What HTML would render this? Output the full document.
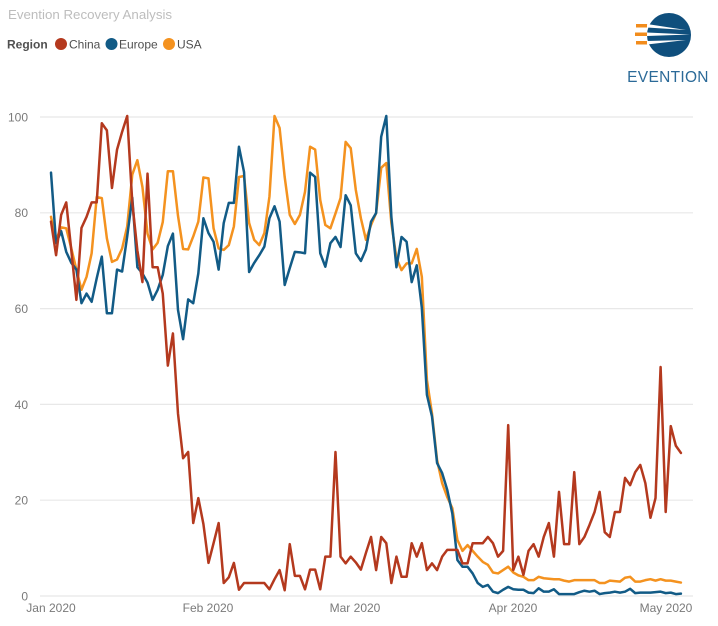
<!DOCTYPE html>
<html><head><meta charset="utf-8"><style>
html,body{margin:0;padding:0;background:#fff;}
svg{display:block;font-family:"Liberation Sans",sans-serif;}
</style></head><body>
<svg width="718" height="626" viewBox="0 0 718 626" xmlns="http://www.w3.org/2000/svg">
<rect width="718" height="626" fill="#fff"/>
<text x="8" y="19" font-size="13.3" fill="#bdbdbd">Evention Recovery Analysis</text>
<text x="7" y="48.5" font-size="12" font-weight="bold" fill="#505050">Region</text>
<circle cx="61" cy="44" r="6" fill="#b4391e"/>
<text x="69" y="48.5" font-size="12" fill="#505050">China</text>
<circle cx="111.5" cy="44" r="6" fill="#125b86"/>
<text x="119" y="48.5" font-size="12" fill="#505050">Europe</text>
<circle cx="169" cy="44" r="6" fill="#f4921f"/>
<text x="177" y="48.5" font-size="12" fill="#505050">USA</text>
<!-- logo -->
<circle cx="669" cy="35" r="22" fill="#0f4f7d"/>
<rect x="636" y="24" width="12" height="3.5" fill="#f28c1c"/>
<rect x="635" y="32.5" width="13" height="3.5" fill="#f28c1c"/>
<rect x="636" y="41" width="12" height="3.5" fill="#f28c1c"/>
<polygon points="647,24 647,27.5 686,30" fill="#fff"/>
<polygon points="647,32.5 647,36 690,34.5" fill="#fff"/>
<polygon points="647,41 647,44.5 686,40" fill="#fff"/>
<text x="668" y="82" font-size="15.5" fill="#2b6a98" text-anchor="middle" letter-spacing="0.3">EVENTION</text>
<!-- grid -->
<g stroke="#e8e8e8" stroke-width="1.2">
<line x1="40" y1="117" x2="693" y2="117"/>
<line x1="40" y1="212.8" x2="693" y2="212.8"/>
<line x1="40" y1="308.6" x2="693" y2="308.6"/>
<line x1="40" y1="404.4" x2="693" y2="404.4"/>
<line x1="40" y1="500.2" x2="693" y2="500.2"/>
<line x1="40" y1="596" x2="693" y2="596"/>
</g>
<g font-size="12" fill="#7a7a7a" text-anchor="end">
<text x="28" y="121.5">100</text>
<text x="28" y="217">80</text>
<text x="28" y="313">60</text>
<text x="28" y="409">40</text>
<text x="28" y="504.5">20</text>
<text x="28" y="600.5">0</text>
</g>
<g font-size="12" fill="#7a7a7a" text-anchor="middle">
<text x="51" y="612">Jan 2020</text>
<text x="208" y="612">Feb 2020</text>
<text x="355" y="612">Mar 2020</text>
<text x="513" y="612">Apr 2020</text>
<text x="666" y="612">May 2020</text>
</g>
<g transform="translate(51,596) scale(5.08,-4.8)" fill="none" stroke-linejoin="round" stroke-linecap="round">
<polyline vector-effect="non-scaling-stroke" stroke="#f4921f" stroke-width="2.5" points="0,79 1,74.2 2,76.8 3,76.6 4,72.4 5,68 6,63.8 7,66.5 8,71.4 9,83.1 10,82.9 11,74.5 12,69.6 13,70.1 14,72.4 15,77 16,87.8 17,90.8 18,85.2 19,75.5 20,72.2 21,73.6 22,77.9 23,88.5 24,88.5 25,79.2 26,72.3 27,72.2 28,74.9 29,78 30,87.2 31,87 32,76.6 33,72.4 34,72.1 35,73.1 36,77 37,87.3 38,87.5 39,77.7 40,74.2 41,73.1 42,75.6 43,83.2 44,100 45,97.5 46,87.3 47,79.4 48,77.5 49,79.4 50,84.2 51,93.6 52,93 53,82.5 54,77.3 55,76.6 56,79.7 57,82.9 58,94.6 59,93.3 60,84.6 61,78.7 62,74.2 63,77.3 64,79.8 65,89.2 66,90.2 67,77.7 68,70.4 69,67.9 70,69.3 71,69.3 72,72.3 73,66.5 74,45 75,38 76,28.3 77,23.5 78,20.6 79,18.3 80,11.7 81,9.4 82,10.6 83,9.4 84,8.2 85,7.1 86,6.5 87,4.9 88,4.7 89,5.4 90,6.1 91,4.9 92,4.3 93,4 94,3.3 95,3.3 96,4 97,3.7 98,3.6 99,3.5 100,3.5 101,3.2 102,3 103,3.3 104,3.3 105,3.3 106,3.3 107,3.3 108,2.7 109,2.7 110,3.2 111,3.1 112,3 113,3.8 114,4 115,3 116,3 117,3.3 118,3.5 119,3.2 120,3.5 121,3.2 122,3.2 123,3 124,2.8"/>
<polyline vector-effect="non-scaling-stroke" stroke="#125b86" stroke-width="2.5" points="0,88.2 1,73.5 2,76 3,71.7 4,69.4 5,68 6,61 7,63 8,61.3 9,66.2 10,70.7 11,58.9 12,58.9 13,68 14,67.6 15,74.9 16,83 17,68.5 18,67.2 19,65.3 20,61.7 21,63.8 22,66.9 23,72.9 24,75.5 25,59.6 26,53.5 27,61.8 28,61 29,67.2 30,78.7 31,75.6 32,73.8 33,68 34,77.7 35,81.9 36,81.9 37,93.6 38,88.3 39,67.5 40,69.4 41,71 42,72.8 43,78.7 44,81.2 45,78 46,64.8 47,68.3 48,71.7 49,71.6 50,71.4 51,88.2 52,87.3 53,71.4 54,68.6 55,73.5 56,74.8 57,72.7 58,83.5 59,81.4 60,71.4 61,69.8 62,72.2 63,78 64,79.8 65,95.7 66,100 67,79 68,68.5 69,74.8 70,73.8 71,65.4 72,68.9 73,60 74,41.9 75,37.4 76,27.7 77,25.6 78,22.1 79,17.2 80,7.5 81,6.1 82,6.1 83,4.7 84,2.7 85,1.9 86,2.3 87,0.9 88,0.6 89,1.3 90,1.9 91,1.4 92,1.3 93,1.3 94,0.7 95,0.6 96,1.6 97,0.9 98,0.9 99,1.4 100,0.4 101,0.4 102,0.4 103,0.4 104,0.8 105,1.1 106,0.9 107,1.1 108,0.4 109,0.6 110,0.7 111,0.9 112,0.7 113,0.9 114,1.5 115,0.6 116,0.7 117,0.7 118,0.7 119,0.8 120,0.9 121,0.6 122,0.7 123,0.4 124,0.5"/>
<polyline vector-effect="non-scaling-stroke" stroke="#b4391e" stroke-width="2.5" points="0,78 1,71 2,79.4 3,82 4,72 5,61.7 6,76.7 7,79 8,82 9,82 10,98.5 11,97 12,85 13,93 14,96.7 15,100 16,82 17,72 18,65.4 19,88 20,68.5 21,68.5 22,63 23,48 24,54.7 25,38 26,28.7 27,30 28,15.2 29,20.4 30,15 31,6.9 32,11 33,15.2 34,2.7 35,3.9 36,6.9 37,1.3 38,2.7 39,2.7 40,2.7 41,2.7 42,2.7 43,1.4 44,3.5 45,5.4 46,1.2 47,10.8 48,4.2 49,4.2 50,1.4 51,5.5 52,5.5 53,1.4 54,8.2 55,8.2 56,30 57,8.2 58,6.8 59,8.2 60,7 61,5.5 62,9 63,12.3 64,5.4 65,12.3 66,11 67,2.7 68,8.2 69,4 70,4 71,11 72,8.2 73,11 74,5.4 75,6.8 76,5.4 77,8.2 78,9.6 79,9.6 80,9.6 81,6.8 82,6.8 83,11 84,11 85,11 86,12.3 87,11 88,8.2 89,9.4 90,35.6 91,5.4 92,8.2 93,4.4 94,9.4 95,10.8 96,8.2 97,12.3 98,15.2 99,8.2 100,21.7 101,10.8 102,10.8 103,25.8 104,10.8 105,12.3 106,14.8 107,17.5 108,21.7 109,13.3 110,12.3 111,17.5 112,17.5 113,24.6 114,23.1 115,25.8 116,27.3 117,23.5 118,16.3 119,20.4 120,47.7 121,17.5 122,35.4 123,31.3 124,29.8"/>
</g>
</svg>
</body></html>
